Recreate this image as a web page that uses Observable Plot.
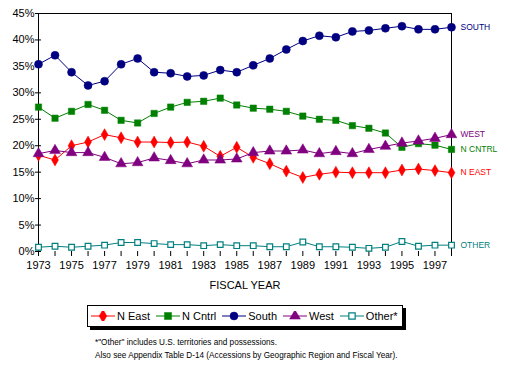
<!DOCTYPE html>
<html>
<head>
<meta charset="utf-8">
<script src="https://cdn.jsdelivr.net/npm/d3@7"></script>
<script src="https://cdn.jsdelivr.net/npm/@observablehq/plot@0.6"></script>
<style>
  body { margin: 0; background: #fff; font-family: "Liberation Sans", Arial, sans-serif; }
  #wrap { position: relative; width: 510px; height: 370px; }
  #legend { position: absolute; left: 87px; top: 305px; width: 314px; height: 20px; border: 1px solid #000;
    box-shadow: 3px 3px 0 #000; background: #fff; display: flex; align-items: center; font-size: 11px; }
  #legend .item { display: flex; align-items: center; margin-left: 3px; margin-right: 3px; }
  #legend svg { margin-right: 2px; }
  #note { position: absolute; left: 95px; top: 336px; font-size: 8.2px; line-height: 13px; color: #000; }
</style>
</head>
<body>
<div id="wrap">
  <div id="chart"></div>
  <div id="legend"></div>
  <div id="note"></div>
</div>
<script>
const years = d3.range(1973, 1999);
const seriesNames = ["N East", "N Cntrl", "South", "West", "Other*"];
const endLabels = ["N EAST", "N CNTRL", "SOUTH", "WEST", "OTHER"];
const nEast = [18.2,17.3,20.0,20.7,22.1,21.5,20.7,20.7,20.6,20.7,19.9,18.0,19.7,17.8,16.6,15.2,14.0,14.6,15.0,14.9,14.9,14.9,15.4,15.6,15.3,14.9];
const nCntrl = [27.3,25.2,26.5,27.8,26.7,24.8,24.3,26.1,27.3,28.2,28.4,29.0,27.7,27.1,26.9,26.5,25.6,25.0,24.8,23.8,23.3,22.4,19.7,20.4,20.1,19.3];
const south = [35.4,37.1,33.9,31.4,32.2,35.4,36.5,33.9,33.7,33.1,33.3,34.3,33.9,35.2,36.5,38.2,39.8,40.8,40.5,41.6,41.8,42.2,42.6,42.0,42.0,42.4];
const west = [18.5,19.1,18.7,18.7,17.8,16.6,16.8,17.7,17.2,16.6,17.3,17.3,17.5,18.7,19.0,19.0,19.2,18.5,18.9,18.5,19.3,19.9,20.5,20.9,21.4,22.1];
const other = [0.8,1.0,0.8,1.0,1.2,1.7,1.7,1.5,1.3,1.3,1.1,1.3,1.1,1.1,0.9,0.9,1.8,0.9,0.9,0.8,0.6,0.8,1.9,1.0,1.2,1.2];
const yTicks = [0,5,10,15,20,25,30,35,40,45];
const xLabelYears = d3.range(1973, 1998, 2);
const xTitle = "FISCAL YEAR";
const notes = ["*\"Other\" includes U.S. territories and possessions.",
  "Also see Appendix Table D-14 (Accessions by Geographic Region and Fiscal Year)."];

const colors = ["#ff0000", "#008000", "#000080", "#800080", "#008080"];
const symbols = ["diamond", "square", "circle", "triangle", "square"];
const fills = [true, true, true, true, false];
const radii = [3.6, 3.6, 4, 4, 3.2];
const allValues = [nEast, nCntrl, south, west, other];

const data = [];
seriesNames.forEach((s, i) => years.forEach((y, j) => data.push({series: s, idx: i, year: y, value: allValues[i][j]})));
const last = seriesNames.map((s, i) => ({series: s, idx: i, year: years[years.length - 1], value: allValues[i][years.length - 1], label: endLabels[i]}));

const marks = [
  Plot.ruleY([45], {stroke: "#000"}),
  Plot.ruleX([1973, 1998], {y1: 0, y2: 45, stroke: "#000"}),
  Plot.ruleY(yTicks, {x1: 1973, x2: 1973 + 0.18, stroke: "#000"}),
  Plot.axisY(yTicks, {tickSize: 3, tickPadding: 1, tickFormat: d => d + "%", fontSize: 11, label: null}),
  Plot.axisX(years, {tickSize: 5, tickPadding: 5, tickFormat: d => xLabelYears.includes(d) ? String(d) : "", fontSize: 11, label: null}),
  Plot.text([xTitle], {frameAnchor: "bottom", dy: 37, fontSize: 11, text: d => d})
];
seriesNames.forEach((s, i) => {
  const d = data.filter(r => r.idx === i);
  marks.push(Plot.line(d, {x: "year", y: "value", stroke: colors[i], strokeWidth: 1}));
  marks.push(Plot.dot(d, {x: "year", y: "value", symbol: symbols[i], r: radii[i],
    fill: fills[i] ? colors[i] : "#fff", stroke: colors[i], strokeWidth: fills[i] ? 0.5 : 1.2}));
});
marks.push(Plot.text(last, {x: "year", y: "value", text: "label", fill: d => colors[d.idx], textAnchor: "start", dx: 9, fontSize: 8.5}));

const chart = Plot.plot({
  width: 510, height: 298,
  marginLeft: 38, marginRight: 59, marginTop: 13, marginBottom: 47,
  style: {fontFamily: "'Liberation Sans', Arial, sans-serif", fontSize: "11px", background: "#fff", color: "#000"},
  x: {domain: [1973, 1998]},
  y: {domain: [0, 45]},
  marks
});
document.getElementById("chart").appendChild(chart);

const legend = document.getElementById("legend");
seriesNames.forEach((s, i) => {
  const item = document.createElement("div");
  item.className = "item";
  const sym = d3.symbol(i === 0 ? d3.symbolDiamond : i === 2 ? d3.symbolCircle : i === 3 ? d3.symbolTriangle : d3.symbolSquare, i === 4 ? 40 : 50)();
  item.innerHTML = `<svg width="24" height="10"><line x1="0" x2="24" y1="5" y2="5" stroke="${colors[i]}"/>` +
    `<path d="${sym}" transform="translate(12,5)" fill="${fills[i] ? colors[i] : '#fff'}" stroke="${colors[i]}" stroke-width="${fills[i] ? 0.5 : 1.2}"/></svg><span>${s}</span>`;
  legend.appendChild(item);
});
document.getElementById("note").innerHTML = notes.map(n => `<div>${n}</div>`).join("");
</script>
</body>
</html>
